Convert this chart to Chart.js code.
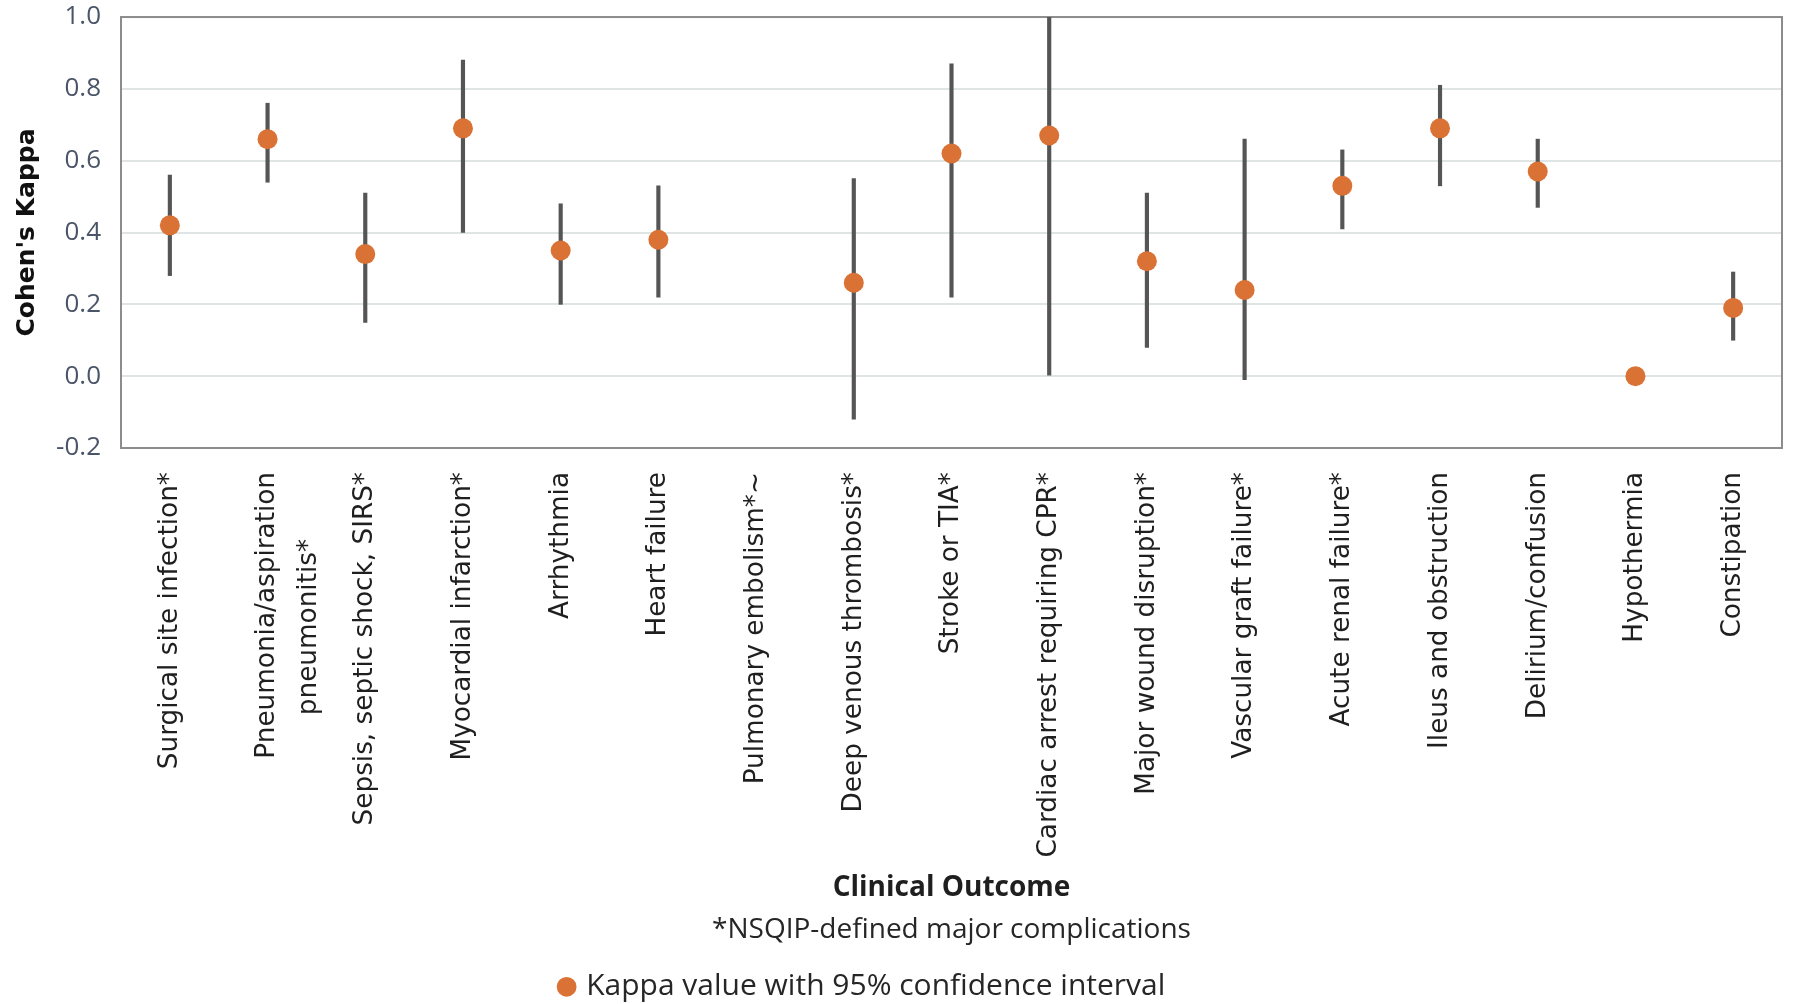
<!DOCTYPE html>
<html>
<head>
<meta charset="utf-8">
<script src="https://cdn.jsdelivr.net/npm/chart.js@4.4.1/dist/chart.umd.min.js"></script>
<style>
html,body{margin:0;padding:0;background:#ffffff;}
#wrap{width:1793px;height:1004px;}
</style>
</head>
<body>
<div id="wrap"><canvas id="c" width="1793" height="1004"></canvas></div>
<script>
const categories = [
  "Surgical site infection*",
  ["Pneumonia/aspiration", "pneumonitis*\u00a0\u00a0\u00a0\u00a0\u00a0\u00a0\u00a0\u00a0"],
  "Sepsis, septic shock, SIRS*",
  "Myocardial infarction*",
  "Arrhythmia",
  "Heart failure",
  "Pulmonary embolism*~",
  "Deep venous thrombosis*",
  "Stroke or TIA*",
  "Cardiac arrest requiring CPR*",
  "Major wound disruption*",
  "Vascular graft failure*",
  "Acute renal failure*",
  "Ileus and obstruction",
  "Delirium/confusion",
  "Hypothermia",
  "Constipation"
];
const kappaValues = [0.42, 0.66, 0.34, 0.69, 0.35, 0.38, null, 0.26, 0.62, 0.67, 0.32, 0.24, 0.53, 0.69, 0.57, 0.00, 0.19];
const ciLower     = [0.28, 0.54, 0.15, 0.40, 0.20, 0.22, null, -0.12, 0.22, 0.00, 0.08, -0.01, 0.41, 0.53, 0.47, null, 0.10];
const ciUpper     = [0.56, 0.76, 0.51, 0.88, 0.48, 0.53, null, 0.55, 0.87, 1.00, 0.51, 0.66, 0.63, 0.81, 0.66, null, 0.29];
const yTickValues = [-0.2, 0.0, 0.2, 0.4, 0.6, 0.8, 1.0];
const seriesLabel = "Kappa value with 95% confidence interval";
const xTitle = "Clinical Outcome";
const yTitle = "Cohen's Kappa";
const footnote = "*NSQIP-defined major complications";

const ORANGE = '#DA7235';
const BAR = '#555555';

const ciRanges = ciLower.map((lo, i) => (lo === null || ciUpper[i] === null) ? null : [lo, ciUpper[i]]);

const framePlugin = {
  id: 'frame',
  beforeDatasetsDraw(chart) {
    const {ctx, chartArea: a} = chart;
    ctx.save();
    ctx.strokeStyle = '#8c8c8c';
    ctx.lineWidth = 2;
    ctx.strokeRect(a.left, a.top, a.right - a.left, a.bottom - a.top);
    ctx.restore();
  }
};

new Chart(document.getElementById('c'), {
  data: {
    labels: categories,
    datasets: [
      {
        type: 'line',
        label: seriesLabel,
        data: kappaValues,
        showLine: false,
        borderWidth: 0,
        borderColor: ORANGE,
        backgroundColor: ORANGE,
        pointRadius: 10,
        pointHoverRadius: 10,
        pointBorderWidth: 0,
        pointBackgroundColor: ORANGE,
        pointStyle: 'circle',
        order: 0
      },
      {
        type: 'bar',
        label: '95% CI',
        data: ciRanges,
        backgroundColor: BAR,
        borderWidth: 0,
        barThickness: 3.5,
        order: 1
      }
    ]
  },
  options: {
    responsive: false,
    animation: false,
    devicePixelRatio: 1,
    layout: { padding: { top: 0, right: 11, left: 0, bottom: -7.8 } },
    scales: {
      x: {
        type: 'category',
        offset: true,
        grid: { display: true, drawOnChartArea: false, drawTicks: true, tickLength: 24, color: 'transparent', tickColor: 'transparent' },
        border: { display: false },
        ticks: {
          autoSkip: false,
          minRotation: 90,
          maxRotation: 90,
          padding: 0,
          color: '#1f1f1f',
          font: { family: 'DejaVu Sans', size: 26.3, lineHeight: 1.6 }
        },
        title: {
          display: true,
          text: xTitle,
          color: '#1f1f1f',
          padding: 0,
          font: { family: 'Open Sans', size: 28, weight: 'bold', lineHeight: 1.2 }
        },
        afterFit(s) { s.height = 456.8; }
      },
      y: {
        type: 'linear',
        min: -0.2,
        max: 1.0,
        afterBuildTicks(s) { s.ticks = yTickValues.map(v => ({ value: v })); },
        grid: { color: '#dfe5e5', lineWidth: 2, drawTicks: true, tickLength: 20, tickColor: 'transparent' },
        border: { display: false },
        ticks: {
          padding: 0,
          color: '#4a5568',
          font: { family: 'Open Sans', size: 26, lineHeight: 1.31 },
          callback: v => Number(v).toFixed(1)
        },
        title: {
          display: true,
          text: yTitle,
          color: '#111111',
          padding: { top: 12, bottom: 0 },
          font: { family: 'DejaVu Sans', size: 25, weight: 'bold', lineHeight: 1.2 }
        },
        afterFit(s) { s.width = 121; }
      }
    },
    plugins: {
      tooltip: { enabled: false },
      title: { display: false },
      subtitle: {
        display: true,
        position: 'bottom',
        text: footnote,
        fullSize: false,
        color: '#262626',
        font: { family: 'Open Sans', size: 28, weight: 'normal', lineHeight: 1.2 },
        padding: { top: 8.4, bottom: 25.0 }
      },
      legend: {
        display: true,
        position: 'bottom',
        weight: 3000,
        labels: {
          usePointStyle: true,
          boxWidth: 9,
          boxHeight: 14,
          padding: 0,
          color: '#262626',
          font: { family: 'Open Sans', size: 30, lineHeight: 1.0 },
          generateLabels(chart) {
            const items = Chart.defaults.plugins.legend.labels.generateLabels(chart);
            return items.filter(it => it.datasetIndex === 0).map(it => Object.assign(it, { text: it.text + '\u00a0'.repeat(7) }));
          }
        }
      }
    }
  },
  plugins: [framePlugin]
});
</script>
</body>
</html>
